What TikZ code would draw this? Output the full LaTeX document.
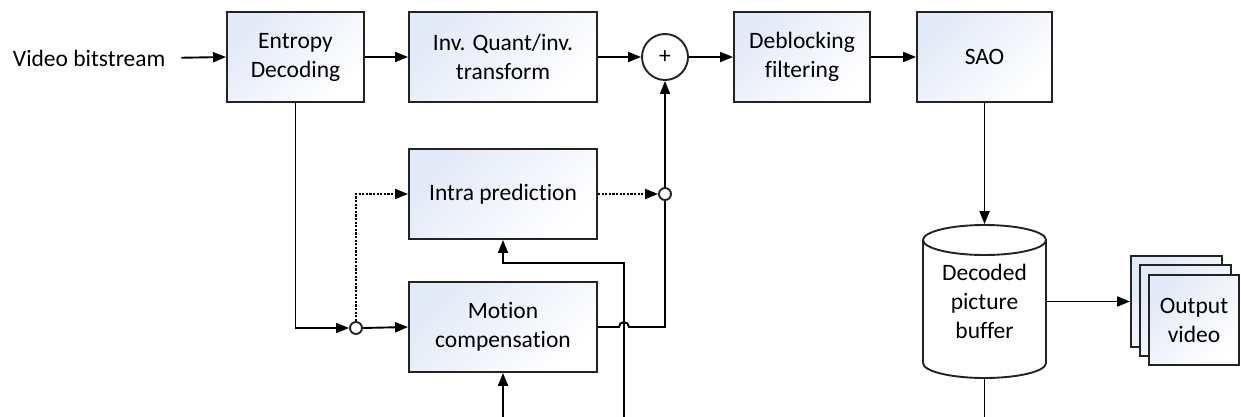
\documentclass[tikz,border=0pt]{standalone}
\usepackage{fontspec}
\setmainfont{Carlito}[Ligatures=NoCommon]
\usetikzlibrary{arrows.meta}
\definecolor{boxblue}{RGB}{226,233,247}
\definecolor{edge}{RGB}{35,35,35}
\begin{document}
\begin{tikzpicture}[x=1pt,y=-1pt,
  font=\fontsize{23.5}{29}\selectfont,
  line width=1.9pt,
  blk/.style={draw=edge, top color=boxblue, bottom color=white, shading angle=45, align=center, inner sep=0pt, minimum height=90pt},
  sumnode/.style={draw=edge, circle, fill=white, minimum size=46pt, inner sep=0pt},
  junc/.style={draw=edge, circle, fill=white, minimum size=12pt, inner sep=0pt},
  arr/.style={-{Triangle[length=13pt,width=10pt]}},
  dots/.style={dash pattern=on 2.2pt off 1.4pt},
  ]
\useasboundingbox (0,0) rectangle (1241,417);

% main nodes
\node[anchor=west, inner sep=0pt] (vb) at (12,58) {Video bitstream};
\node[blk, minimum width=137pt] (ent) at (295.5,57) {Entropy\\Decoding};
\node[blk, minimum width=188pt] (iq) at (503,57) {Inv. Quant/inv.\\transform};
\node[sumnode] (plus) at (665,57) {+};
\node[blk, minimum width=136pt] (deb) at (802,57) {Deblocking\\filtering};
\node[blk, minimum width=135pt] (sao) at (984.5,57) {SAO};
\node[blk, minimum width=188pt] (intra) at (503,194) {Intra prediction};
\node[blk, minimum width=188pt] (mc) at (503,327) {Motion\\compensation};
\node[junc] (c1) at (356,328) {};
\node[junc] (c2) at (665,194) {};

% decoded picture buffer (cylinder)
\draw[draw=edge] (984.5,240) ellipse [x radius=61.5, y radius=15];
\draw[draw=edge] (923,240) -- (923,363) arc[start angle=180, end angle=360, x radius=61.5pt, y radius=15pt] -- (1046,240);
\node[minimum width=123pt, minimum height=153pt, inner sep=0pt, align=center] (dpb) at (984.5,301.5) {Decoded\\picture\\buffer};

% output video stack
\node[blk, minimum width=91pt, minimum height=91pt] (ov1) at (1176.5,301.5) {};
\node[blk, minimum width=91pt, minimum height=91pt] (ov2) at (1185.5,310.5) {};
\node[blk, minimum width=90pt, minimum height=90pt] (ov3) at (1194,320) {Output\\video};

% free ends
\coordinate (fb) at (624,417);
\coordinate (mb) at (503,417);
\coordinate (db) at (984.5,417);

% connectors
\draw[arr, shorten <=15pt] (vb.east) -- (ent.west);
\draw[arr] (ent.east) -- (iq.west);
\draw[arr] (iq.east) -- (plus.west);
\draw[arr] (plus.east) -- (deb.west);
\draw[arr] (deb.east) -- (sao.west);
\draw[arr] (sao.south) -- (dpb.north);
\draw[arr] (ent.south) |- (c1.west);
\draw[arr] (c1.east) -- (mc.west);
\draw[arr, dots] (c1.north) |- (intra.west);
\draw[arr, dots] (intra.east) -- (c2.west);
\draw (mc.east) -- ++(21,0) arc[start angle=180, end angle=0, radius=5pt] -- (c2.south |- mc.east) -- (c2.south);
\draw[arr] (c2.north) -- (plus.south);
\draw[arr] (fb) -- (624,263) -| (intra.south);
\draw[arr] (mb) -- (mc.south);
\draw (dpb.south) -- (db);
\draw[arr] (dpb.east) -- (ov1.west);
\end{tikzpicture}
\end{document}
